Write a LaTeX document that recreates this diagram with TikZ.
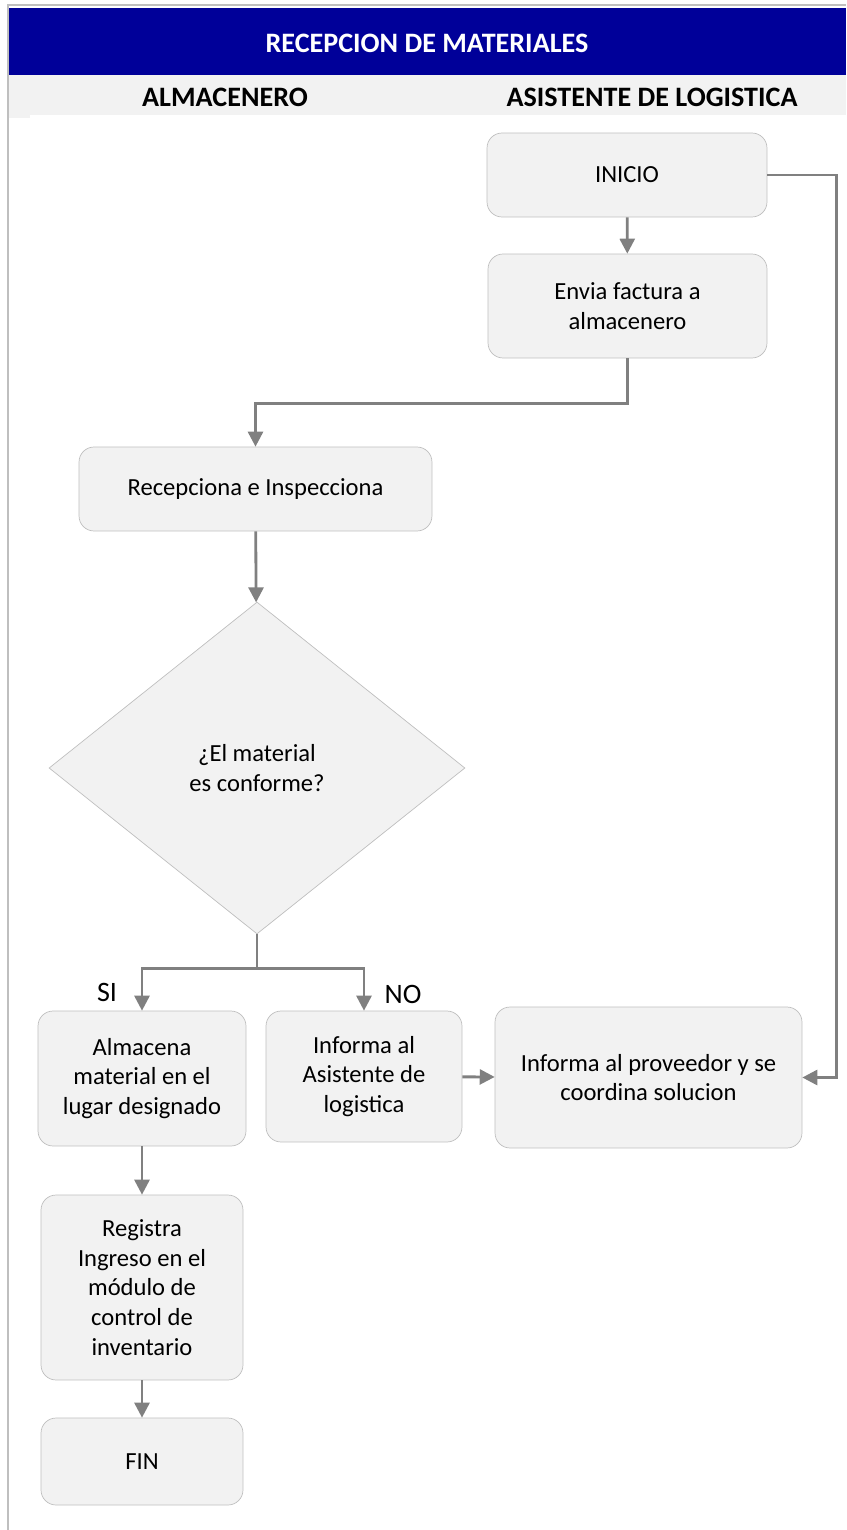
\documentclass[tikz,border=0pt]{standalone}
\usepackage{fontspec}
\setmainfont{Carlito}
\usetikzlibrary{shapes.geometric,arrows.meta}
\definecolor{hdrblue}{HTML}{000099}
\definecolor{boxfill}{HTML}{F2F2F2}
\definecolor{boxline}{HTML}{BFBFBF}
\definecolor{arrgray}{HTML}{808080}

\begin{document}
\begin{tikzpicture}[x=0.02cm,y=-0.02cm,
    stepbox/.style={draw=boxline, fill=boxfill, rounded corners=0.3cm, align=center,
      font=\fontsize{14}{17}\selectfont, inner sep=2pt},
    decision/.style={diamond, draw=boxline, fill=boxfill, align=center,
      font=\fontsize{14}{17}\selectfont, inner sep=0pt},
    flow/.style={draw=arrgray, line width=1.6pt, -{Triangle[width=8.5pt,length=8.5pt]}},
    lanetitle/.style={font=\fontsize{16}{19}\selectfont\bfseries},
    branch/.style={font=\fontsize{16}{19}\selectfont}]
  \useasboundingbox (0,0) rectangle (846,1530);
  % frame and header bands
  \fill[hdrblue] (8,8) rectangle (846,75);
  \fill[boxfill] (8,75) rectangle (846,115);
  \fill[boxfill] (8,115) rectangle (30,118);
  \draw[boxline, line width=0.8pt] (8,1530) -- (8,5) -- (846,5);
  \node[lanetitle, text=white] (title) at (427,43) {RECEPCION DE MATERIALES};
  \node[lanetitle] (lane1) at (225,97) {ALMACENERO};
  \node[lanetitle] (lane2) at (652,97) {ASISTENTE DE LOGISTICA};

  % steps
  \node[stepbox, minimum width=5.6cm, minimum height=1.68cm] (inicio) at (627,175) {INICIO};
  \node[stepbox, minimum width=5.58cm, minimum height=2.08cm] (envia) at (627.5,306) {Envia factura a\\almacenero};
  \node[stepbox, minimum width=7.06cm, minimum height=1.68cm] (recep) at (255.5,489) {Recepciona e Inspecciona};
  \node[decision, minimum width=8.32cm, minimum height=6.64cm] (cond) at (257,768) {¿El material\\es conforme?};
  \node[stepbox, minimum width=4.16cm, minimum height=2.7cm] (almac) at (142,1078.5) {Almacena\\material en el\\lugar designado};
  \node[stepbox, minimum width=3.92cm, minimum height=2.62cm] (infasis) at (364,1076.5) {Informa al\\Asistente de\\logistica};
  \node[stepbox, minimum width=6.14cm, minimum height=2.82cm] (infprov) at (648.5,1077.5) {Informa al proveedor y se\\coordina solucion};
  \node[stepbox, minimum width=4.04cm, minimum height=3.7cm] (regis) at (142,1287.5) {Registra\\Ingreso en el\\módulo de\\control de\\inventario};
  \node[stepbox, minimum width=4.04cm, minimum height=1.74cm] (fin) at (142,1461.5) {FIN};

  % branch labels
  \node[branch] (si) at (107,992) {SI};
  \node[branch] (no) at (403,994) {NO};

  % connectors
  \draw[flow] (inicio) -- (envia);
  \draw[flow] (inicio.east) -- ++(69,0) |- (infprov.east);
  \draw[flow] (envia.south) -- ++(0,45) -| (recep.north);
  \draw[flow] (recep) -- (cond);
  \draw[flow] (cond.south) -- ++(0,34) -| (almac.north);
  \draw[flow] (cond.south) -- ++(0,34) -| (infasis.north);
  \draw[flow] (infasis) -- (infprov);
  \draw[flow] (almac) -- (regis);
  \draw[flow] (regis) -- (fin);
\end{tikzpicture}
\end{document}
